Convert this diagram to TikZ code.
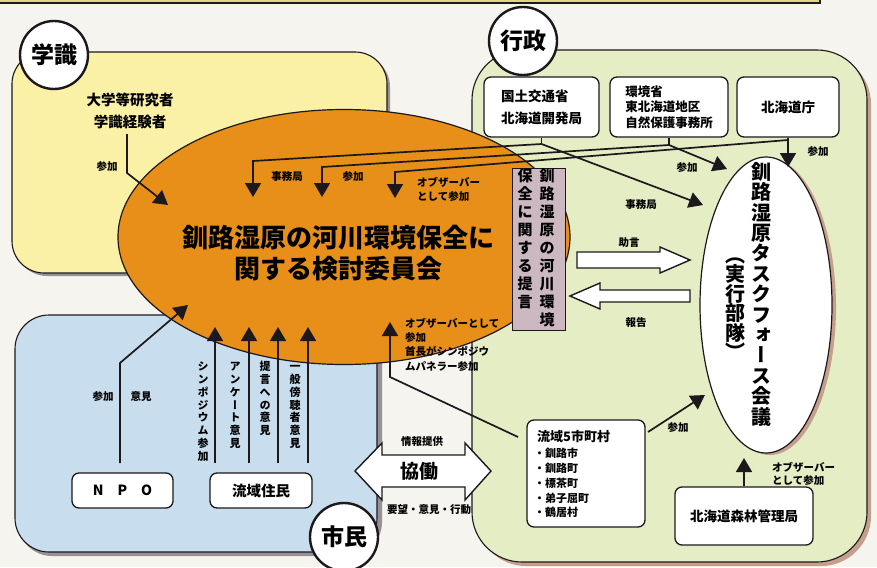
\documentclass[tikz,border=0pt]{standalone}
\usepackage{fontspec}
\setmainfont{Noto Sans CJK JP}
\newfontfamily\jpv[RawFeature=+vert]{Noto Sans CJK JP}
\usetikzlibrary{arrows.meta,shapes.geometric}
\definecolor{bgc}{RGB}{245,244,238}
\definecolor{topy}{RGB}{222,214,130}
\definecolor{yel}{RGB}{250,241,166}
\definecolor{blu}{RGB}{200,221,237}
\definecolor{grn}{RGB}{229,237,197}
\definecolor{org}{RGB}{231,143,24}
\definecolor{mauve}{RGB}{203,184,192}
\definecolor{shad}{RGB}{196,160,140}
\definecolor{shadg}{RGB}{150,145,150}
\definecolor{ink}{RGB}{28,24,28}
\newcommand{\vs}{\vphantom{漢}}
\tikzset{
  region/.style={draw=ink, line width=1.1pt},
  orgbox/.style={draw=ink, line width=1.3pt, fill=white, rounded corners=7pt, inner sep=0pt},
  circ/.style={circle, draw=ink, line width=2.4pt, fill=white, minimum size=68pt, inner sep=0pt, font=\bfseries\fontsize{23}{23}\selectfont},
  lab/.style={inner sep=0pt, font=\bfseries\fontsize{10.5}{14}\selectfont},
  conn/.style={draw=ink, line width=1.7pt},
  arr/.style={conn, -{Triangle[width=16pt,length=14pt]}},
  vtxt/.style={align=center, inner sep=0pt, anchor=north, font=\jpv\bfseries\fontsize{11}{12.8}\selectfont},
  hollow/.style={draw=ink, line width=1.4pt, fill=white, line join=miter},
}
\begin{document}
\begin{tikzpicture}[x=1pt,y=-1pt]
\useasboundingbox (0,0) rectangle (877,567);
\fill[bgc] (0,0) rectangle (877,567);
\fill[topy] (0,0) rectangle (820,2);
\draw[ink, line width=1.8pt] (0,3) -- (820,3) -- (820,0);
% region shadows
\fill[shadg, rounded corners=32pt] (15,55) rectangle (390,276);
\fill[shadg, rounded corners=34pt] (18,318) rectangle (382,556);
\fill[shad, rounded corners=50pt] (476,54) rectangle (871,566);
% regions
\draw[region, fill=yel, rounded corners=32pt] (12,52) rectangle (387,273);
\draw[region, fill=blu, rounded corners=34pt] (15,315) rectangle (377,552);
\draw[region, fill=grn, rounded corners=50pt] (472,50) rectangle (867,562);
% committee ellipse
\node[ellipse, draw=ink, line width=1.2pt, fill=org, minimum width=452pt, minimum height=255pt, inner sep=0pt] (cmte) at (344,237) {};
\node[align=center, inner sep=0pt, font=\bfseries\fontsize{26}{31}\selectfont] (cmtet) at (338,253) {釧路湿原の河川環境保全に\\関する検討委員会};
% proposal box
\node[draw=ink, line width=1pt, fill=mauve, minimum width=53pt, minimum height=162pt, inner sep=0pt] (teigen) at (538.5,249) {};
\node[vtxt, font=\bfseries\fontsize{15}{18}\selectfont] (tg1) at (547,168) {\vs 釧\\路\\湿\\原\\の\\河\\川\\環\\境};
\node[vtxt, font=\bfseries\fontsize{15}{18}\selectfont] (tg2) at (525,168) {\vs 保\\全\\に\\関\\す\\る\\提\\言};
% government boxes
\node[orgbox, minimum width=115pt, minimum height=60pt, align=left, font=\bfseries\fontsize{13.5}{22}\selectfont] (kokko) at (541.5,107) {国土交通省\\北海道開発局};
\node[orgbox, minimum width=118pt, minimum height=60pt, align=left, font=\bfseries\fontsize{12.5}{15.5}\selectfont] (kankyo) at (669,107) {環境省\\東北海道地区\\自然保護事務所};
\node[orgbox, minimum width=102pt, minimum height=60pt, font=\bfseries\fontsize{13.5}{16}\selectfont] (dochou) at (788,107) {北海道庁};
% taskforce ellipse
\node[ellipse, fill=shad, minimum width=132pt, minimum height=296pt, inner sep=0pt] (tfs) at (770,307) {};
\node[ellipse, draw=ink, line width=1.2pt, fill=white, minimum width=132pt, minimum height=296pt, inner sep=0pt] (tf) at (766,305) {};
\node[vtxt, font=\jpv\bfseries\fontsize{20}{20.4}\selectfont] (tft1) at (761,162) {\vs 釧\\路\\湿\\原\\タ\\ス\\ク\\フ\\ォ\\ー\\ス\\会\\議};
\node[vtxt, font=\jpv\bfseries\fontsize{20}{19.5}\selectfont] (tft2) at (735,245) {\vs （\\実\\行\\部\\隊\\）};
% other boxes
\node[orgbox, minimum width=118pt, minimum height=107pt] (m5) at (586,473.5) {};
\node[anchor=west, inner sep=0pt, font=\bfseries\fontsize{13}{13}\selectfont] (m5t) at (537,437) {流域5市町村};
\node[anchor=north west, align=left, inner sep=0pt, font=\bfseries\fontsize{11}{14.8}\selectfont] (m5i) at (534,448) {・釧路市\\・釧路町\\・標茶町\\・弟子屈町\\・鶴居村};
\node[orgbox, minimum width=138pt, minimum height=58pt, font=\bfseries\fontsize{13.5}{16}\selectfont] (forest) at (744,516) {北海道森林管理局};
\node[orgbox, minimum width=101pt, minimum height=35pt, font=\bfseries\fontsize{14}{16}\selectfont] (npo) at (122.5,490.5) {N　P　O};
\node[orgbox, minimum width=102pt, minimum height=35pt, font=\bfseries\fontsize{14.5}{16}\selectfont] (jumin) at (261,490.5) {流域住民};
\node[align=center, inner sep=0pt, font=\bfseries\fontsize{14.5}{22}\selectfont] (sch) at (130,111) {大学等研究者\\学識経験者};
% coordinates
\coordinate (k1) at (541.5,144);
\coordinate (j1) at (253,161);
\coordinate (e1) at (253,197);
\coordinate (k2) at (669,145);
\coordinate (j2) at (322,167);
\coordinate (e2) at (322,197);
\coordinate (k3) at (788,140);
\coordinate (j3) at (395,172);
\coordinate (e3) at (395,198);
\coordinate (tfe1) at (703,205);
\coordinate (tfe2) at (727,169);
\coordinate (tfe3) at (788,167);
\coordinate (s0) at (127,134);
\coordinate (s1) at (127,173);
\coordinate (s2) at (168,205);
\coordinate (n0) at (120,463);
\coordinate (n1) at (120,363);
\coordinate (n2) at (188,305);
\coordinate (m0) at (518,437);
\coordinate (m1) at (390,377);
\coordinate (m2) at (390,322);
\coordinate (m5e0) at (648,432);
\coordinate (m5e1) at (705,395);
\coordinate (fe) at (744,458);
% government connectors
\draw[conn] (kokko.south) -- (k1);
\draw[arr] (k1) -- (j1) -- (e1);
\draw[arr] (k1) -- (tfe1);
\draw[conn] (kankyo.south) -- (k2);
\draw[arr] (k2) -- (j2) -- (e2);
\draw[arr] (k2) -- (tfe2);
\draw[arr] (k3) -- (j3) -- (e3);
\draw[arr] (dochou.south) -- (tfe3);
% scholar connector
\draw[arr] (s0) -- (s1) -- (s2);
% citizens
\draw[arr] (n0) -- (n1) -- (n2);
\foreach \xx/\nm in {215/r1,249/r2,278/r3,308/r4}{
  \coordinate (\nm a) at (\xx,463);
  \coordinate (\nm b) at (\xx,327);
  \draw[arr] (\nm a) -- (\nm b);
}
% municipalities
\draw[arr] (m0) -- (m1) -- (m2);
\draw[arr] (m5e0) -- (m5e1);
\draw[arr] (forest.north) -- (fe);
% hollow arrows
\draw[hollow] (577,252) -- (660,252) -- (660,247) -- (690,260) -- (660,273) -- (660,268) -- (577,268) -- cycle;
\draw[hollow] (690,290) -- (600,290) -- (600,283) -- (570,296) -- (600,309) -- (600,302) -- (690,302) -- cycle;
\draw[hollow] (355,471) -- (382,443) -- (382,455) -- (465,455) -- (465,443) -- (491,471) -- (465,500) -- (465,487) -- (382,487) -- (382,500) -- cycle;
% labels
\node[lab] (l1) at (107,167) {参加};
\node[lab] (l2) at (287,177) {事務局};
\node[lab] (l3) at (353,177) {参加};
\node[lab, anchor=west, align=left] (l4) at (417,189.5) {オブザーバー\\として参加};
\node[lab] (l5) at (687,168) {参加};
\node[lab] (l6) at (818,152) {参加};
\node[lab] (l7) at (641,205) {事務局};
\node[lab] (l8) at (629,243) {助言};
\node[lab] (l9) at (636,323) {報告};
\node[lab] (l10) at (678,428) {参加};
\node[lab, anchor=west, align=left, font=\bfseries\fontsize{10.5}{13}\selectfont] (l11) at (772,474) {オブザーバー\\として参加};
\node[lab, anchor=north west, align=left, font=\bfseries\fontsize{10.5}{14.3}\selectfont] (l12) at (405,318) {オブザーバーとして\\参加\\首長がシンポジウ\\ムパネラー参加};
\node[lab] (l13) at (103,397) {参加};
\node[lab] (l14) at (141,397) {意見};
\node[lab] (l15) at (422,442) {情報提供};
\node[inner sep=0pt, font=\bfseries\fontsize{19}{19}\selectfont] (kyodo) at (419,471) {協働};
\node[lab] (l16) at (429,510) {要望・意見・行動};
\node[vtxt] (v1) at (203,361) {\vs シ\\ン\\ポ\\ジ\\ウ\\ム\\参\\加};
\node[vtxt] (v2) at (235,361) {\vs ア\\ン\\ケ\\ー\\ト\\意\\見};
\node[vtxt] (v3) at (265,361) {\vs 提\\言\\へ\\の\\意\\見};
\node[vtxt] (v4) at (295,361) {\vs 一\\般\\傍\\聴\\者\\意\\見};
% circles
\node[circ] (gak) at (54,55) {学識};
\node[circ] (gyo) at (523,41) {行政};
\node[circ] (shi) at (344,537) {市民};
\end{tikzpicture}
\end{document}
